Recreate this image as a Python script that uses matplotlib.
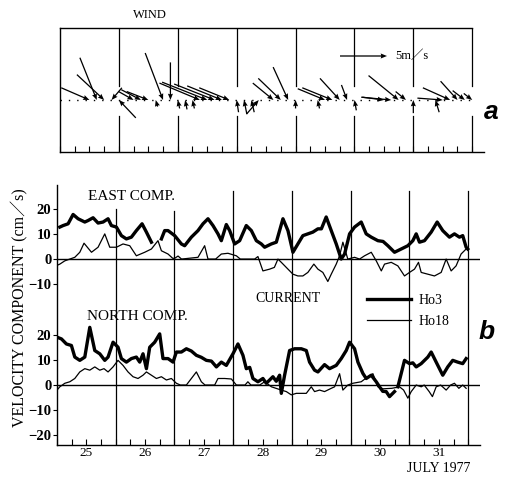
import numpy as np
import matplotlib
matplotlib.use("Agg")
import matplotlib.pyplot as plt

plt.rcParams['font.family'] = ['Liberation Serif', 'Noto Sans CJK JP']

# ---- wind (3-hourly, m/s) ----
wind_time = np.arange(57) / 8.0 + 24.5
wind_u = [0, 0, 0, 0, 3.0, 1.8, 2.9, -1.1, -1.8, 0, 1.6, 2.1, 2.3, -0.2, 1.9, 0.0,
          -0.2, -0.2, -0.2, 4.3, 4.8, 4.3, 3.7, 3.2, -0.2, -0.3, -0.3, 1.3, 0, 2.2,
          2.4, 1.6, 0.0, 0, 0, -0.2, 2.9, 3.2, 2.1, 0.6, -0.2, 0, 0, 0, 2.3, 3.2,
          3.2, 1.1, 0.0, 0, 0, -0.4, 2.7, 2.9, 1.8, 1.3, 0.9]
wind_v = [0, 0, 0, 0, -1.3, -4.5, -2.7, -1.3, 1.9, 0, -0.9, -1.1, -0.9, 0.7, -5.0, -4.0,
          0.9, 1.0, 0.9, -1.8, -1.9, -1.7, -1.5, -1.3, 1.3, 1.5, 1.3, 1.5, 0, -1.8,
          -2.3, -3.5, 0.9, 0, 0, 0.9, -1.2, -1.3, -2.3, -1.6, 1.1, 0, 0, 0, -0.3, -0.3,
          -2.6, -0.9, 1.4, 0, 0, 1.3, -0.2, -1.3, -2.0, -1.0, -0.7]

# ---- current, east component ----
east_ho3_t = [24.548, 24.604, 24.689, 24.774, 24.859, 24.973, 25.029, 25.114, 25.199, 25.284,
              25.369, 25.426, 25.511, 25.596, 25.681, 25.766, 25.851, 25.948, 26.022, 26.107,
              26.19, 26.277, 26.333, 26.39, 26.503, 26.617, 26.673, 26.787, 26.9, 26.985,
              27.07, 27.155, 27.24, 27.297, 27.382, 27.439, 27.524, 27.609, 27.722, 27.808,
              27.893, 27.978, 28.034, 28.148, 28.233, 28.346, 28.431, 28.516, 28.6, 28.685,
              28.77, 28.855, 28.941, 29.0, 29.082, 29.168, 29.253, 29.338, 29.395, 29.48,
              29.565, 29.678, 29.763, 29.849, 29.962, 30.05, 30.132, 30.245, 30.359, 30.472,
              30.557, 30.614, 30.67, 30.755, 30.869, 30.971, 31.066, 31.18, 31.265, 31.35,
              31.406, 31.464, 31.491]
east_ho3 = [12.7, 13.3, 14.0, 17.7, 16.0, 14.7, 15.3, 16.4, 14.3, 14.7,
            16.0, 13.3, 12.7, 9.3, 8.0, 8.7, 11.3, 14.0, 10.7, 6.7,
            np.nan, 8.0, 11.3, 11.3, 9.3, 6.0, 5.3, 8.7, 11.3, 14.0,
            16.0, 13.3, 10.0, 7.3, 13.7, 11.3, 6.0, 7.3, 13.3, 11.3,
            7.3, 6.0, 4.7, 6.0, 6.7, 16.0, 11.3, 2.7, 6.0, 9.3,
            10.0, 10.7, 12.0, 12.0, 16.7, 11.3, 6.0, 0.0, 2.0, 10.0,
            12.7, 14.7, 10.0, 8.7, 7.3, 7.0, 5.3, 2.7, 4.0, 5.3,
            7.3, 10.0, 6.7, 7.3, 10.7, 14.7, 11.3, 8.7, 10.0, 8.7,
            9.3, 4.7, 4.0]

east_ho18_t = [24.5, 24.548, 24.633, 24.803, 24.888, 24.96, 25.087, 25.199, 25.313, 25.398,
               25.511, 25.624, 25.738, 25.851, 25.993, 26.107, 26.219, 26.277, 26.39, 26.47,
               26.503, 26.56, 26.62, 26.9, 27.013, 27.07, 27.2, 27.297, 27.41, 27.553,
               27.62, 27.864, 27.92, 28.005, 28.119, 28.2, 28.261, 28.318, 28.516, 28.6,
               28.685, 28.77, 28.872, 28.941, 29.025, 29.11, 29.168, 29.253, 29.31, 29.366,
               29.45, 29.565, 29.65, 29.735, 29.849, 29.934, 30.02, 30.075, 30.189, 30.302,
               30.415, 30.5, 30.585, 30.653, 30.699, 30.812, 30.925, 31.039, 31.124, 31.209,
               31.293, 31.378, 31.464]
east_ho18 = [-2.5, -2.0, -0.7, 0.7, 2.7, 6.3, 2.7, 4.7, 10.0, 4.7,
             4.7, 6.0, 5.3, 1.3, 2.7, 4.0, 7.3, 3.3, 2.0, 0.3,
             0.3, 1.2, 0.0, 0.7, 5.3, 0.0, 0.0, 2.0, 2.3, 1.3,
             0.0, 0.0, 1.0, -4.7, -4.0, -3.3, 0.0, -1.3, -6.0, -6.7,
             -6.7, -5.3, -2.0, -4.0, -5.3, -8.9, -6.0, -2.0, 1.3, 6.7,
             0.0, 0.7, 0.0, 1.3, 2.7, -0.7, -4.7, -2.0, -1.3, -2.7,
             -6.7, -5.3, -4.0, -1.3, -5.3, -6.0, -6.7, -5.3, 0.0, -4.7,
             -2.7, 2.0, 4.0]

# ---- current, north component ----
north_ho3_t = [24.5, 24.576, 24.66, 24.745, 24.803, 24.888, 24.973, 25.058, 25.143, 25.228,
               25.313, 25.369, 25.454, 25.539, 25.596, 25.681, 25.766, 25.851, 25.908, 25.964,
               26.022, 26.078, 26.163, 26.248, 26.304, 26.39, 26.475, 26.532, 26.617, 26.702,
               26.787, 26.872, 26.957, 27.042, 27.128, 27.213, 27.297, 27.382, 27.495, 27.58,
               27.665, 27.722, 27.78, 27.835, 27.92, 28.005, 28.062, 28.119, 28.175, 28.232,
               28.289, 28.318, 28.374, 28.459, 28.544, 28.658, 28.743, 28.799, 28.884, 28.941,
               29.054, 29.139, 29.253, 29.338, 29.423, 29.48, 29.565, 29.622, 29.707, 29.763,
               29.849, 29.934, 29.99, 30.045, 30.103, 30.16, 30.245, 30.27, 30.302, 30.415,
               30.5, 30.557, 30.614, 30.699, 30.812, 30.869, 30.954, 31.066, 31.151, 31.236,
               31.32, 31.406, 31.464]
north_ho3 = [19.0, 18.3, 16.3, 15.7, 11.1, 9.8, 11.1, 22.9, 13.7, 12.4,
             9.8, 11.1, 17.0, 15.0, 10.5, 9.1, 10.5, 11.1, 9.1, 12.4,
             6.5, 15.0, 17.0, 20.3, 10.5, 10.5, 9.1, 13.1, 13.1, 14.4,
             13.5, 11.8, 11.0, 9.8, 9.5, 7.2, 9.1, 7.8, 12.4, 16.3,
             11.8, 6.5, 7.0, 2.6, 1.3, 2.6, 0.7, 2.0, 3.3, 1.5,
             3.9, -3.3, 3.9, 13.7, 14.4, 14.4, 13.7, 9.1, 5.9, 5.2,
             8.1, 6.5, 7.8, 10.5, 13.7, 17.0, 14.4, 9.1, 4.6, 2.6,
             3.9, 1.3, -0.7, -2.5, -2.6, -4.6, -2.6, np.nan, -0.7, 9.8,
             8.5, 8.8, 7.2, 8.5, 11.1, 13.1, 9.1, 3.9, 7.2, 9.8,
             9.1, 8.5, 10.5]

north_ho18_t = [24.5, 24.548, 24.633, 24.718, 24.803, 24.888, 24.973, 25.058, 25.143, 25.228,
                25.3, 25.369, 25.454, 25.539, 25.624, 25.709, 25.794, 25.879, 25.964, 26.022,
                26.107, 26.192, 26.277, 26.362, 26.447, 26.532, 26.6, 26.702, 26.787, 26.872,
                26.957, 27.02, 27.184, 27.24, 27.354, 27.468, 27.553, 27.7, 27.749, 27.8,
                27.95, 28.034, 28.15, 28.318, 28.403, 28.488, 28.573, 28.658, 28.743, 28.828,
                28.884, 28.969, 29.054, 29.168, 29.225, 29.31, 29.366, 29.45, 29.535, 29.678,
                29.792, 29.877, 29.962, 30.05, 30.2, 30.33, 30.4, 30.472, 30.529, 30.614,
                30.7, 30.75, 30.835, 30.89, 30.954, 31.03, 31.124, 31.2, 31.265, 31.34,
                31.406, 31.464]
north_ho18 = [-2.0, -0.7, 0.7, 1.3, 2.6, 5.2, 6.5, 5.9, 7.2, 5.9,
              6.5, 5.2, 7.2, 9.8, 7.8, 5.2, 3.3, 2.6, 3.9, 5.2,
              3.9, 2.6, 3.3, 2.0, 2.6, 0.7, 0.0, 0.0, 2.6, 5.2,
              1.3, 0.0, 0.0, 2.6, 2.6, 2.4, 0.0, 0.0, 1.3, 0.0,
              0.0, 1.3, -0.7, -2.0, -2.6, -3.9, -3.3, -3.3, -3.3, -0.7,
              -2.6, -2.0, -2.6, -1.3, -0.7, 4.5, -2.0, 0.0, 0.7, 1.3,
              3.3, 4.5, -0.7, -1.5, -1.3, -0.7, -2.0, -5.2, -2.6, 0.0,
              -0.7, 0.0, -2.6, -4.6, -0.7, 0.0, -2.0, 0.0, 0.7, -1.3,
              0.0, -1.3]

day_labels = ['25', '26', '27', '28', '29', '30', '31']
day_centers = [25, 26, 27, 28, 29, 30, 31]
day_bounds = [25.5, 26.5, 27.5, 28.5, 29.5, 30.5, 31.5]
bound_tops = [70, 69, 77, 77, 77, 77, 77]

EAST_OFFSET = 50  # east component is drawn 50 cm/s above the north one

fig = plt.figure(figsize=(5.06, 4.79), dpi=100)

# ---------------- panel a: wind sticks ----------------
ax1 = fig.add_axes([60 / 506, 1 - 152 / 479, 424 / 506, 124 / 479])
ax1.set_xlim(24.5, 31.7)
ax1.set_ylim(-52, 72)
ax1.spines['right'].set_visible(False)
ax1.spines['top'].set_bounds(24.5, 31.5)
for d in day_bounds:
    ax1.plot([d, d], [72, 14], color='black', lw=0.9)
    ax1.plot([d, d], [-16, -52], color='black', lw=0.9)
ax1.plot([24.5, 31.5], [0, 0], color='black', lw=1.0, ls=(0, (1, 5)))
q = ax1.quiver(wind_time, np.zeros(len(wind_time)), wind_u, wind_v,
               angles='uv', scale_units='inches', scale=10.64, pivot='tip',
               width=0.003, headwidth=4, headlength=5, headaxislength=4.5,
               minlength=0, color='black')
ax1.quiverkey(q, 387 / 506, 1 - 56 / 479, 5, '5m／s', labelpos='E',
              coordinates='figure', labelsep=0.08, fontproperties={'size': 9})
ax1.set_xticks(np.arange(24.5, 31.75, 0.25))
ax1.set_xticklabels([])
ax1.set_yticks([])
ax1.tick_params(axis='x', direction='in', length=4, width=0.8)
for s in ax1.spines.values():
    s.set_linewidth(1.0)
fig.text(150 / 506, 1 - 15 / 479, 'WIND', ha='center', va='center', fontsize=9)
fig.text(491 / 506, 1 - 112 / 479, 'a', ha='center', va='center', fontsize=19,
         family='Liberation Sans', weight='bold', style='italic')

# ---------------- panel b: currents ----------------
ax2 = fig.add_axes([57 / 506, 1 - 445 / 479, 423 / 506, 260 / 479])
ax2.set_xlim(24.5, 31.7)
ax2.set_ylim(-23.8, 79.4)
ax2.spines['right'].set_visible(False)
ax2.spines['top'].set_visible(False)
for d, top in zip(day_bounds, bound_tops):
    ax2.plot([d, d], [-23.8, top], color='black', lw=0.9)
ax2.axhline(0, color='black', lw=1.0)
ax2.axhline(EAST_OFFSET, color='black', lw=1.0)

ax2.plot(east_ho3_t, np.array(east_ho3) + EAST_OFFSET, color='black', lw=2.4)
ax2.plot(east_ho18_t, np.array(east_ho18) + EAST_OFFSET, color='black', lw=0.9)
l3, = ax2.plot(north_ho3_t, north_ho3, color='black', lw=2.4, label='Ho3')
l18, = ax2.plot(north_ho18_t, north_ho18, color='black', lw=0.9, label='Ho18')

yt = [-20, -10, 0, 10, 20, 40, 50, 60, 70]
ax2.set_yticks(yt)
ax2.set_yticklabels(['−20', '−10', '0', '10', '20', '−10', '0', '10', '20'],
                    fontsize=10.5, weight='bold')
ax2.set_xticks(day_centers)
ax2.set_xticklabels(day_labels, fontsize=9.5)
ax2.set_xticks(np.arange(24.5, 31.75, 0.25), minor=True)
ax2.tick_params(axis='x', which='both', direction='in', length=4, width=0.8, pad=1.5)
ax2.tick_params(axis='y', direction='out', length=3, width=0.8, pad=1)
for s in ax2.spines.values():
    s.set_linewidth(1.0)
ax2.legend(handles=[l3, l18], loc='upper left', bbox_to_anchor=(360 / 506, 1 - 287 / 479),
           bbox_transform=fig.transFigure, frameon=False, fontsize=10,
           handlelength=3.2, handletextpad=0.5, labelspacing=0.6, borderpad=0)

fig.text(88 / 506, 1 - 196 / 479, 'EAST COMP.', ha='left', va='center', fontsize=11)
fig.text(87 / 506, 1 - 317 / 479, 'NORTH COMP.', ha='left', va='center', fontsize=11)
fig.text(288 / 506, 1 - 298 / 479, 'CURRENT', ha='center', va='center', fontsize=10)
fig.text(487 / 506, 1 - 332 / 479, 'b', ha='center', va='center', fontsize=19,
         family='Liberation Sans', weight='bold', style='italic')
fig.text(470 / 506, 1 - 468 / 479, 'JULY 1977', ha='right', va='center', fontsize=10)
fig.text(20 / 506, 1 - 308 / 479, 'VELOCITY COMPONENT (cm／s)', rotation=90,
         ha='center', va='center', fontsize=11.5)

fig.savefig('out.png', dpi=100)
